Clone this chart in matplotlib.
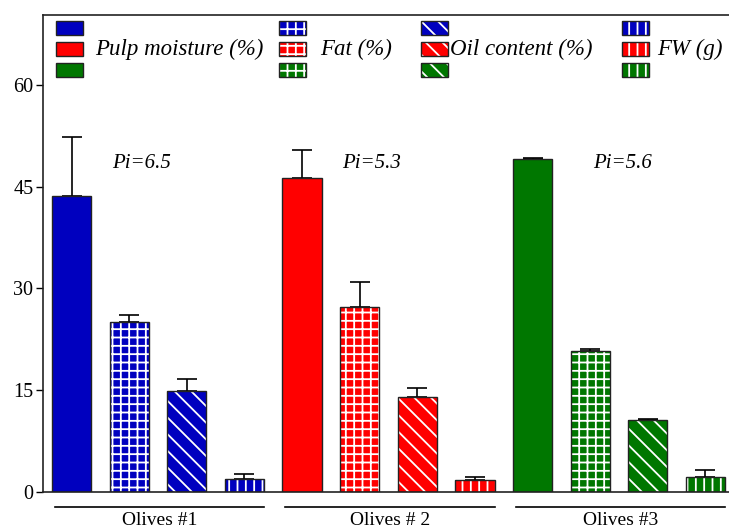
import numpy as np
import matplotlib.pyplot as plt
from matplotlib.patches import Rectangle

plt.rcParams['font.family'] = ['Liberation Serif', 'DejaVu Serif']
plt.rcParams['hatch.linewidth'] = 1.3

# data
groups = ['Olives #1', 'Olives # 2', 'Olives #3']
params = ['Pulp moisture (%)', 'Fat (%)', 'Oil content (%)', 'FW (g)']
pi_labels = ['Pi=6.5', 'Pi=5.3', 'Pi=5.6']
means = [[43.6, 25.1, 14.9, 1.9],
         [46.3, 27.2, 14.0, 1.7],
         [49.1, 20.8, 10.6, 2.2]]
errs = [[8.7, 1.0, 1.7, 0.7],
        [4.1, 3.7, 1.4, 0.5],
        [0.1, 0.25, 0.2, 1.0]]

colors = ['#0000BF', '#FF0000', '#007700']
hatches = [None, '++', '\\\\', '||']

W, H = 729, 530
fig = plt.figure(figsize=(W / 100, H / 100), dpi=100)
ax = fig.add_axes([43 / W, (H - 492) / H, (740 - 43) / W, (492 - 15) / H])

width = 0.68
for g in range(3):
    for p in range(4):
        x = 4 * g + p
        h = hatches[p]
        if h is None:
            ax.bar(x, means[g][p], width, color=colors[g], edgecolor='#222222', linewidth=1, zorder=2)
        else:
            ax.bar(x, means[g][p], width, color=colors[g], edgecolor='white', hatch=h, linewidth=0, zorder=2)
            ax.bar(x, means[g][p], width, fill=False, edgecolor='#222222', linewidth=1, zorder=3)
        ax.errorbar(x, means[g][p], yerr=[[0], [errs[g][p]]], fmt='none', ecolor='black',
                    elinewidth=1.2, capsize=7, capthick=1.2, zorder=1)

# Pi annotations
pi_x = [1.21, 5.2, 9.56]
for g in range(3):
    ax.text(pi_x[g], 48.4, pi_labels[g], ha='center', va='center', fontsize=15, style='italic')

ax.set_xlim(-0.495, 11.0 + (740 - 705.5) / 57.6)
ax.set_ylim(0, 70.3)
ax.set_yticks([0, 15, 30, 45, 60])
ax.tick_params(axis='y', direction='out', length=5, width=1, labelsize=14.5, pad=2)
ax.set_xticks([])
ax.spines['right'].set_visible(False)
for s in ['left', 'bottom', 'top']:
    ax.spines[s].set_linewidth(1.2)
    ax.spines[s].set_color('#222222')

# group lines and labels under the axis
trans = ax.get_xaxis_transform()
for g in range(3):
    x0, x1 = 4 * g - 0.29, 4 * g + 3.34
    ax.plot([x0, x1], [-0.032, -0.032], color='black', lw=1.2, transform=trans, clip_on=False)
    ax.text((x0 + x1) / 2, -0.059, groups[g], ha='center', va='center', fontsize=14,
            transform=trans)

# legend drawn as a 3 x 4 grid of patches, labels in the middle row
col_x = [56, 279, 421, 622]
lab_x = [95, 320, 450, 657]
row_top = [21, 42, 63]
pw, ph = 27, 14
for c in range(4):
    for r in range(3):
        h = hatches[c]
        rect = Rectangle((col_x[c] / W, 1 - (row_top[r] + ph) / H), pw / W, ph / H,
                         transform=fig.transFigure, facecolor=colors[r],
                         edgecolor='white' if h else '#222222', hatch=h, lw=0 if h else 1)
        fig.add_artist(rect)
        if h:
            fig.add_artist(Rectangle((col_x[c] / W, 1 - (row_top[r] + ph) / H), pw / W, ph / H,
                                     transform=fig.transFigure, fill=False,
                                     edgecolor='#222222', lw=1))
    fig.text(lab_x[c] / W, 1 - 49 / H, params[c], ha='left', va='center',
             fontsize=16.5, style='italic')

fig.savefig('out.png', dpi=100)
